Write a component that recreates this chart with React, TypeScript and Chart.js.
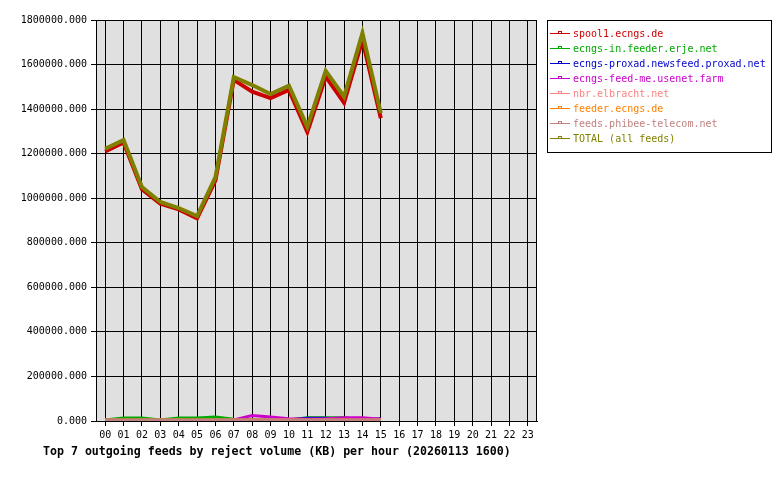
import React, { useEffect, useRef } from "react";
import { Chart, registerables } from "chart.js";

Chart.register(...registerables);

const hours = ["00","01","02","03","04","05","06","07","08","09","10","11","12","13","14","15","16","17","18","19","20","21","22","23"];

const spool1 = [1210000, 1250000, 1040000, 975000, 950000, 910000, 1080000, 1531000, 1478000, 1449000, 1486000, 1298000, 1546000, 1429000, 1710000, 1359000];
const ingress = [5000, 13000, 13000, 5000, 13000, 13000, 18000, 8000, 5000, 5000, 5000, 15000, 15000, 15000, 5000, 5000];
const proxad = [0, 0, 0, 0, 0, 0, 0, 0, 0, 0, 5000, 12000, 12000, 8000, 5000, 10000];
const feedMe = [0, 0, 0, 0, 0, 0, 0, 5000, 25000, 18000, 10000, 8000, 10000, 15000, 15000, 8000];
const nbr = [3000, 3000, 3000, 3000, 3000, 3000, 3000, 3000, 3000, 3000, 3000, 3000, 3000, 3000, 3000, 3000];
const feeder = [4000, 4000, 4000, 4000, 4000, 4000, 4000, 4000, 4000, 4000, 4000, 4000, 4000, 4000, 4000, 4000];
const phibee = [5000, 5000, 5000, 5000, 5000, 5000, 5000, 5000, 5000, 5000, 5000, 5000, 5000, 5000, 5000, 5000];
const total = [1222000, 1261000, 1050000, 983000, 956000, 920000, 1095000, 1544000, 1508000, 1468000, 1505000, 1320000, 1572000, 1456000, 1742000, 1382000];

const seriesNames = [
  "spool1.ecngs.de",
  "ecngs-in.feeder.erje.net",
  "ecngs-proxad.newsfeed.proxad.net",
  "ecngs-feed-me.usenet.farm",
  "nbr.elbracht.net",
  "feeder.ecngs.de",
  "feeds.phibee-telecom.net",
  "TOTAL (all feeds)",
];
const seriesColors = ["#cc0000", "#00aa00", "#0000cc", "#cc00cc", "#ff8080", "#ff8000", "#c08080", "#808000"];
const seriesData = [spool1, ingress, proxad, feedMe, nbr, feeder, phibee, total];

const yTicks = [0, 200000, 400000, 600000, 800000, 1000000, 1200000, 1400000, 1600000, 1800000];

const titleText = "Top 7 outgoing feeds by reject volume (KB) per hour (20260113 1600)";
const MONO = '"DejaVu Sans Mono", "Liberation Mono", monospace';

const pad = (arr: number[]) => hours.map((_, i) => (i < arr.length ? arr[i] : null));

export default function App() {
  const ref = useRef<HTMLCanvasElement | null>(null);
  useEffect(() => {
    if (!ref.current) return;
    const bgPlugin = {
      id: "bg",
      beforeDraw(chart: any) {
        const { ctx, chartArea } = chart;
        ctx.save();
        ctx.fillStyle = "#ffffff";
        ctx.fillRect(0, 0, chart.width, chart.height);
        ctx.fillStyle = "#e0e0e0";
        ctx.fillRect(chartArea.left, chartArea.top, chartArea.right - chartArea.left, chartArea.bottom - chartArea.top);
        ctx.restore();
      },
      afterDraw(chart: any) {
        const { ctx, chartArea } = chart;
        ctx.save();
        ctx.strokeStyle = "#000";
        ctx.lineWidth = 1;
        ctx.strokeRect(Math.round(chartArea.left) + 0.5, Math.round(chartArea.top) + 0.5, Math.round(chartArea.right - chartArea.left) - 1, Math.round(chartArea.bottom - chartArea.top));
        // title
        ctx.fillStyle = "#000";
        ctx.font = "bold 11.6px " + MONO;
        ctx.textBaseline = "middle";
        ctx.textAlign = "left";
        ctx.fillText(titleText, 43, 452);
        // legend
        ctx.strokeRect(547.5, 20.5, 224, 132);
        ctx.font = "10px " + MONO;
        seriesNames.forEach((name, i) => {
          const y = 33 + i * 15;
          ctx.strokeStyle = seriesColors[i];
          ctx.beginPath();
          ctx.moveTo(550, y + 0.5);
          ctx.lineTo(570, y + 0.5);
          ctx.stroke();
          ctx.strokeRect(558.5, y - 1.5, 3, 2);
          ctx.fillStyle = seriesColors[i];
          ctx.fillText(name, 573, y + 1);
        });
        ctx.restore();
      },
    };
    const chart = new Chart(ref.current, {
      type: "line",
      data: {
        labels: hours,
        datasets: seriesData.map((d, i) => ({
          label: seriesNames[i],
          data: pad(d),
          borderColor: seriesColors[i],
          backgroundColor: seriesColors[i],
          borderWidth: i === 0 || i === 7 ? 4 : 3,
          pointRadius: 0,
          tension: 0,
          fill: false,
          order: seriesData.length - 1 - i,
        })),
      },
      options: {
        responsive: false,
        animation: false,
        events: [],
        layout: { padding: { top: 20, right: 243, left: 0, bottom: 0 } },
        plugins: { legend: { display: false }, title: { display: false }, tooltip: { enabled: false } },
        scales: {
          x: {
            offset: true,
            grid: { offset: false, color: "#000", lineWidth: 1, tickLength: 5, tickColor: "#000" },
            border: { color: "#000" },
            ticks: { color: "#000", font: { family: MONO, size: 10 }, padding: 3, maxRotation: 0, autoSkip: false },
            afterFit(scale: any) {
              scale.height = 59;
            },
          },
          y: {
            min: 0,
            max: 1800000,
            afterBuildTicks(scale: any) {
              scale.ticks = yTicks.map((v) => ({ value: v }));
            },
            grid: { color: "#000", lineWidth: 1, tickLength: 5, tickColor: "#000" },
            border: { color: "#000" },
            ticks: {
              color: "#000",
              font: { family: MONO, size: 10 },
              padding: 4,
              callback: (v: any) => Number(v).toFixed(3),
            },
            afterFit(scale: any) {
              scale.width = 96;
            },
          },
        },
      },
      plugins: [bgPlugin],
    } as any);
    return () => chart.destroy();
  }, []);
  return (
    <div style={{ position: "fixed", left: 0, top: 0, width: 780, height: 480, background: "#fff" }}>
      <canvas ref={ref} width={780} height={480} style={{ width: 780, height: 480, display: "block" }} />
    </div>
  );
}
